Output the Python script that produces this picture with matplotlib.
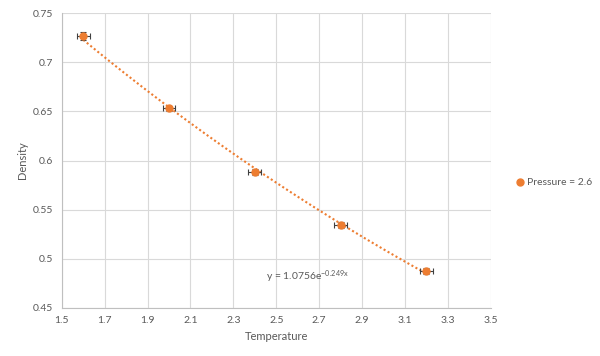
import numpy as np
import matplotlib.pyplot as plt

plt.rcParams['font.family'] = ['Lato', 'DejaVu Sans']
plt.rcParams['mathtext.default'] = 'regular'

temperature = [1.6, 2.0, 2.4, 2.8, 3.2]
density = [0.727, 0.653, 0.588, 0.534, 0.488]
temp_err = [0.03, 0.03, 0.03, 0.03, 0.03]
dens_err = [0.004, 0.003, 0.003, 0.003, 0.003]
trend_label = 'y = 1.0756e$^{-0.249x}$'


def main():
    fig = plt.figure(figsize=(6, 3.56), dpi=100)
    ax = fig.add_axes([0.103, 0.135, 0.715, 0.828])

    orange = '#ED7D31'
    grey = '#595959'

    # exponential trendline fitted on log(density)
    b, log_a = np.polyfit(temperature, np.log(density), 1)
    xs = np.linspace(temperature[0], temperature[-1], 100)
    ax.plot(xs, np.exp(log_a) * np.exp(b * xs), color=orange, lw=1.5,
            ls=(0, (1, 1.2)), zorder=2)

    ax.errorbar(temperature, density, xerr=temp_err, yerr=dens_err,
                fmt='o', color=orange, ms=5, ecolor='#404040', elinewidth=0.8,
                capsize=2.5, capthick=0.8, zorder=3, label='Pressure = 2.6')

    ax.text(2.45, 0.4815, trend_label, fontsize=7.5, color=grey, va='center')

    ax.set_xlim(1.5, 3.5)
    ax.set_ylim(0.45, 0.75)
    ax.set_xticks(np.arange(1.5, 3.51, 0.2))
    ax.set_yticks(np.arange(0.45, 0.751, 0.05))
    ax.set_xticklabels(['1.5', '1.7', '1.9', '2.1', '2.3', '2.5', '2.7',
                        '2.9', '3.1', '3.3', '3.5'])
    ax.set_yticklabels(['0.45', '0.5', '0.55', '0.6', '0.65', '0.7', '0.75'])
    ax.grid(True, color='#d9d9d9', lw=0.8)
    ax.set_axisbelow(True)
    for s in ['top', 'right']:
        ax.spines[s].set_visible(False)
    for s in ['left', 'bottom']:
        ax.spines[s].set_color('#bfbfbf')
    ax.tick_params(length=0, labelsize=7.5, colors=grey, pad=6)

    ax.set_xlabel('Temperature', fontsize=8, color=grey)
    ax.set_ylabel('Density', fontsize=8, color=grey)

    fig.legend([plt.Line2D([], [], marker='o', ls='', color=orange, ms=5)],
               ['Pressure = 2.6'], loc='center left',
               bbox_to_anchor=(0.843, 0.487), frameon=False, fontsize=7.5,
               labelcolor=grey, handletextpad=0.1, handlelength=1)

    plt.savefig('out.png')


if __name__ == "__main__":
    main()
